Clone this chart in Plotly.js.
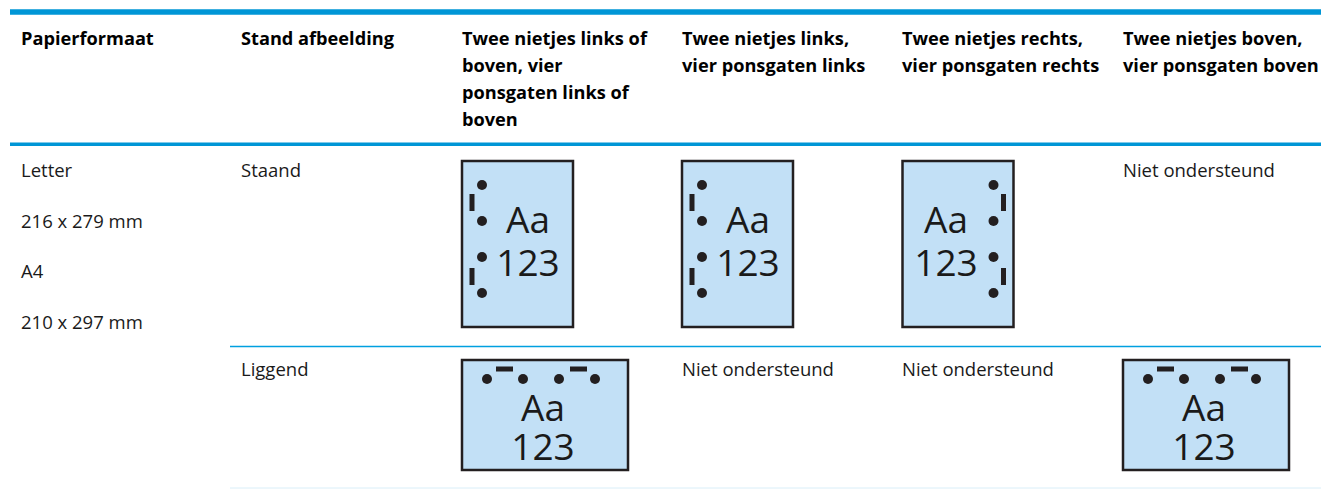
<!DOCTYPE html>
<html><head><meta charset="utf-8">
<script src="https://cdn.plot.ly/plotly-3.0.1.min.js"></script>
<style>html,body{margin:0;padding:0;background:#fff}#c{width:1321px;height:489px}</style>
</head><body><div id="c"></div>
<script>
const FONT = '"Open Sans", sans-serif';
const headerLabels = ['Papierformaat','Stand afbeelding','Twee nietjes links of<br>boven, vier<br>ponsgaten links of<br>boven','Twee nietjes links,<br>vier ponsgaten links','Twee nietjes rechts,<br>vier ponsgaten rechts','Twee nietjes boven,<br>vier ponsgaten boven'];
const columnX = [21,241,462,682,902,1123];
const headerY = 40;
const headerLineGap = 27;
const sizeLabels = ['Letter','216 x 279 mm','A4','210 x 297 mm'];
const sizeLabelY = [172,223,273,324];
const orientationLabels = ['Staand','Liggend'];
const rowY = [172,371];
const unsupportedLabel = 'Niet ondersteund';
const unsupportedCells = [[5,0],[3,1],[4,1]];
const portraitIcons = [{x:462,side:'L'},{x:682,side:'L'},{x:902.5,side:'R'}];
const landscapeIcons = [462,1123];
const portraitW = 111, portraitH = 166, portraitTop = 161;
const landscapeW = 166, landscapeH = 110, landscapeTop = 360;
const holeOffsets = [24,60,96,132];
const staplePairs = [[33,50],[107,124]];

const traces = [];
const shapes = [];
function text(x,y,str,size,bold,anchor){
  traces.push({type:'scatter',mode:'text',x:[x],y:[y],text:[str],textposition:anchor||'middle right',
    textfont:{family:FONT,size:size,color:bold?'#000':'#1a1a1a',weight:bold?700:400},hoverinfo:'skip',showlegend:false,cliponaxis:false});
}
function rule(x0,x1,y,w,c){shapes.push({type:'line',xref:'x',yref:'y',x0,x1,y0:y,y1:y,line:{color:c,width:w},layer:'below'});}
rule(10,1321,12,5.5,'#0096d6');
rule(10,1321,144.3,3.5,'#0096d6');
rule(230,1321,346.5,1.5,'#00a0e0');
rule(230,1321,488,1,'#d9eef8');

headerLabels.forEach((h,i)=>{
  h.split('<br>').forEach((ln,k)=>text(columnX[i],headerY+k*headerLineGap,ln,18.2,true));
});
sizeLabels.forEach((s,i)=>text(columnX[0],sizeLabelY[i],s,18.5,false));
orientationLabels.forEach((s,i)=>text(columnX[1],rowY[i],s,18.5,false));
unsupportedCells.forEach(([c,r])=>text(columnX[c],rowY[r],unsupportedLabel,18.5,false));

function page(x,y,w,h){shapes.push({type:'rect',xref:'x',yref:'y',x0:x,x1:x+w,y0:y,y1:y+h,fillcolor:'#c2e0f6',line:{color:'#231f20',width:2.5},layer:'below'});}
function staple(x0,y0,x1,y1){shapes.push({type:'line',xref:'x',yref:'y',x0,x1,y0,y1,line:{color:'#231f20',width:5}});}
const holesX=[],holesY=[];
portraitIcons.forEach(ic=>{
  page(ic.x,portraitTop,portraitW,portraitH);
  const hx = ic.side==='L'? ic.x+20 : ic.x+91;
  const sx = ic.side==='L'? ic.x+10 : ic.x+101;
  holeOffsets.forEach(o=>{holesX.push(hx);holesY.push(portraitTop+o);});
  staplePairs.forEach(p=>staple(sx,portraitTop+p[0],sx,portraitTop+p[1]));
  const cx = ic.side==='L'? ic.x+66 : ic.x+43.5;
  text(cx,portraitTop+63,'Aa',37,false,'middle center');
  text(cx,portraitTop+106,'123',37,false,'middle center');
});
landscapeIcons.forEach(x=>{
  page(x,landscapeTop,landscapeW,landscapeH);
  holeOffsets.forEach(o=>{holesX.push(x+o+1);holesY.push(landscapeTop+19);});
  staplePairs.forEach(p=>staple(x+p[0]+1,landscapeTop+9,x+p[1]+1,landscapeTop+9));
  text(x+81,landscapeTop+52,'Aa',37,false,'middle center');
  text(x+81,landscapeTop+91,'123',37,false,'middle center');
});
traces.push({type:'scatter',mode:'markers',x:holesX,y:holesY,marker:{color:'#231f20',size:10},hoverinfo:'skip',showlegend:false});

Plotly.newPlot('c',traces,{
  width:1321,height:489,margin:{l:0,r:0,t:0,b:0},paper_bgcolor:'#fff',plot_bgcolor:'#fff',showlegend:false,
  xaxis:{range:[0,1321],visible:false,fixedrange:true},
  yaxis:{range:[489,0],visible:false,fixedrange:true},
  shapes:shapes
},{displayModeBar:false,staticPlot:true});
</script></body></html>
